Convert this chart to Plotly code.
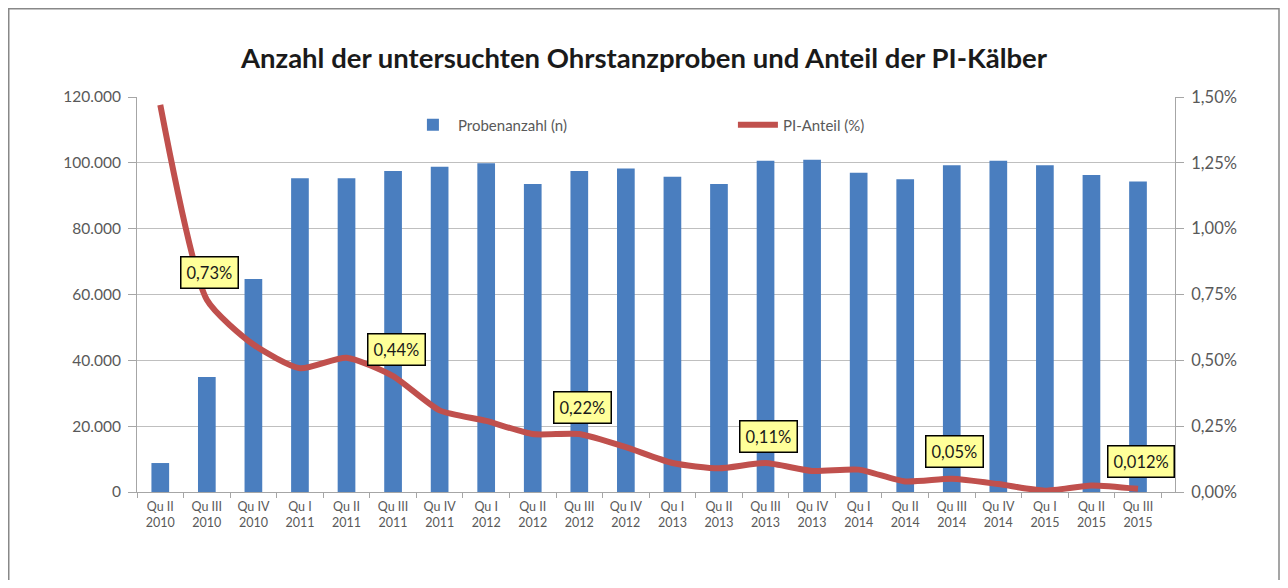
import plotly.graph_objects as go

categories = ["Qu II<br>2010", "Qu III<br>2010", "Qu IV<br>2010",
              "Qu I<br>2011", "Qu II<br>2011", "Qu III<br>2011", "Qu IV<br>2011",
              "Qu I<br>2012", "Qu II<br>2012", "Qu III<br>2012", "Qu IV<br>2012",
              "Qu I<br>2013", "Qu II<br>2013", "Qu III<br>2013", "Qu IV<br>2013",
              "Qu I<br>2014", "Qu II<br>2014", "Qu III<br>2014", "Qu IV<br>2014",
              "Qu I<br>2015", "Qu II<br>2015", "Qu III<br>2015"]

probenanzahl = [8800, 34900, 64700,
                95300, 95300, 97500, 98800,
                99850, 93600, 97500, 98300,
                95800, 93600, 100600, 100900,
                97000, 95000, 99300, 100600,
                99300, 96300, 94300]

pi_anteil = [1.47, 0.73, 0.56,
             0.47, 0.51, 0.44, 0.31,
             0.27, 0.22, 0.22, 0.17,
             0.11, 0.09, 0.11, 0.08,
             0.085, 0.04, 0.05, 0.03,
             0.005, 0.025, 0.012]

label_index = [1, 5, 9, 13, 17, 21]
label_text = ["0,73%", "0,44%", "0,22%", "0,11%", "0,05%", "0,012%"]

left_tickvals = [0, 20000, 40000, 60000, 80000, 100000, 120000]
left_ticktext = ["0", "20.000", "40.000", "60.000", "80.000", "100.000", "120.000"]
right_tickvals = [0, 0.25, 0.5, 0.75, 1.0, 1.25, 1.5]
right_ticktext = ["0,00%", "0,25%", "0,50%", "0,75%", "1,00%", "1,25%", "1,50%"]

FONT = "Lato"
TXT = "#595959"

W, H = 1272, 572          # page body has an 8px margin
L, T = 129, 89
PW, PH = 1038, 395
R = W - L - PW
B = H - T - PH

fig = go.Figure()
fig.add_trace(go.Bar(x=categories, y=probenanzahl, name="Probenanzahl (n)",
                     marker=dict(color="#4A7EBF", line=dict(width=0)), yaxis="y"))
fig.add_trace(go.Scatter(x=categories, y=pi_anteil, name="PI-Anteil (%)", mode="lines",
                         line=dict(color="#C0504D", width=6, shape="spline", smoothing=0.6),
                         yaxis="y2"))

for i, t in zip(label_index, label_text):
    fig.add_annotation(x=categories[i], y=pi_anteil[i], xref="x", yref="y2", text=t,
                       showarrow=False, yshift=27, xshift=3,
                       bgcolor="#FFFF99", bordercolor="#000000", borderwidth=1.5, borderpad=5,
                       font=dict(family=FONT, size=16.5, color="#1a1a1a"))

# outer frame
fig.add_shape(type="rect", xref="paper", yref="paper",
              x0=(0.75 - L) / PW, x1=(W - 1 - L) / PW,
              y0=(T + PH - (H + 40)) / PH, y1=(T + PH - 0.75) / PH,
              line=dict(color="#888888", width=1.5), fillcolor="rgba(0,0,0,0)", layer="below")

fig.update_layout(
    width=W, height=H,
    margin=dict(l=L, r=R, t=T, b=B),
    paper_bgcolor="white", plot_bgcolor="white",
    font=dict(family=FONT, color=TXT),
    title=dict(text="<b>Anzahl der untersuchten Ohrstanzproben und Anteil der PI-Kälber</b>",
               x=0.5, xanchor="center", y=1 - 50 / H, yanchor="middle",
               font=dict(family=FONT, size=27.5, color="#1a1a1a")),
    bargap=0.62,
    showlegend=True,
    legend=dict(orientation="h", x=0.261, xanchor="left", y=0.929, yanchor="middle",
                bgcolor="rgba(0,0,0,0)", font=dict(family=FONT, size=15, color=TXT),
                itemwidth=40, entrywidth=270, entrywidthmode="pixels", traceorder="normal"),
    xaxis=dict(type="category", showgrid=False, showline=True, linecolor="#A6A6A6", linewidth=1,
               ticks="outside", ticklen=5, tickcolor="#A6A6A6", tickson="boundaries",
               ticklabelstandoff=3,
               tickfont=dict(family=FONT, size=12.5, color=TXT)),
    yaxis=dict(range=[0, 120000], tickvals=left_tickvals, ticktext=left_ticktext,
               showgrid=True, gridcolor="#BFBFBF", gridwidth=1,
               showline=True, linecolor="#A6A6A6", ticks="outside", ticklen=8, tickcolor="#A6A6A6",
               ticklabelstandoff=4, zeroline=False,
               tickfont=dict(family=FONT, size=15.5, color=TXT)),
    yaxis2=dict(range=[0, 1.5], tickvals=right_tickvals, ticktext=right_ticktext,
                overlaying="y", side="right", showgrid=False,
                showline=True, linecolor="#A6A6A6", ticks="outside", ticklen=8, tickcolor="#A6A6A6",
                ticklabelstandoff=4, zeroline=False,
                tickfont=dict(family=FONT, size=16.5, color=TXT)),
)

fig.write_html("out.html")
